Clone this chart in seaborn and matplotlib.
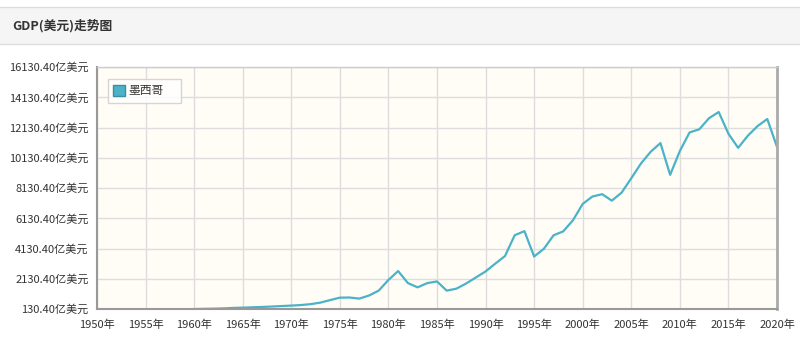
import matplotlib
matplotlib.use("Agg")
import matplotlib.pyplot as plt
import seaborn as sns
import pandas as pd
from matplotlib.patches import Rectangle
from matplotlib.lines import Line2D

years = list(range(1960, 2021))
gdp = [130.4, 141.6, 152.0, 169.6, 200.8, 218.4, 243.6, 265.6, 293.6, 324.8,
       355.4, 392.0, 452.0, 552.7, 720.0, 880.0, 890.0, 817.1, 1021.6, 1345.4,
       2051.4, 2639.6, 1846.1, 1561.6, 1842.3, 1952.2, 1345.5, 1475.4, 1816.1, 2214.0,
       2612.5, 3131.4, 3631.6, 5007.4, 5278.1, 3600.7, 4109.8, 5004.1, 5265.0, 6002.3,
       7079.1, 7567.1, 7721.1, 7293.4, 7822.4, 8774.8, 9753.9, 10527.0, 11099.9, 9000.5,
       10578.0, 11804.9, 12010.9, 12744.4, 13153.5, 11718.7, 10784.9, 11589.1, 12224.1, 12690.1,
       10850.0]
series_name = "墨西哥"
title = "GDP(美元)走势图"
yticks = [130.4 + 2000 * k for k in range(9)]
xticks = list(range(1950, 2021, 5))

df = pd.DataFrame({"year": years, "gdp": gdp, "country": series_name})

sns.set_theme(style="white")
plt.rcParams["font.family"] = ["Noto Sans CJK SC", "DejaVu Sans"]

fig = plt.figure(figsize=(8, 3.42), dpi=100)
fig.patch.set_facecolor("white")

# title bar
bar = Rectangle((0, 1 - 44 / 342), 1, 37 / 342, transform=fig.transFigure,
                facecolor="#f5f5f5", edgecolor="none", zorder=0)
fig.patches.append(bar)
for yy in (1 - 7 / 342, 1 - 44 / 342):
    fig.add_artist(Line2D([0, 1], [yy, yy], transform=fig.transFigure,
                          color="#dddddd", lw=1))
fig.text(12 / 800, 1 - 25.5 / 342, title, fontsize=9.2, fontweight="bold",
         color="#333333", va="center", ha="left")

ax = fig.add_axes([97 / 800, 33 / 342, 680 / 800, 242 / 342])
ax.set_facecolor("#fffdf5")
color = "#4ab3c9"
sns.lineplot(data=df, x="year", y="gdp", ax=ax, color=color, lw=1.6, legend=False)

ax.set_xlim(1950, 2020)
ax.set_ylim(yticks[0], yticks[-1])
ax.set_xticks(xticks)
ax.set_xticklabels([f"{x}年" for x in xticks])
ax.set_yticks(yticks)
ax.set_yticklabels([f"{v:.2f}亿美元" for v in yticks])
ax.set_xlabel("")
ax.set_ylabel("")
ax.grid(True, color="#dddddd", lw=1)
ax.set_axisbelow(True)
ax.tick_params(axis="both", labelsize=8, colors="#333333", length=4,
               width=1, direction="out", pad=2)
ax.tick_params(axis="x", pad=4)
ax.tick_params(axis="both", color="#999999")
for s in ("left", "bottom"):
    ax.spines[s].set_color("#999999")
    ax.spines[s].set_linewidth(1.5)
ax.spines["right"].set_color("#aaaaaa")
ax.spines["right"].set_linewidth(2)
ax.spines["top"].set_color("#cccccc")
ax.spines["top"].set_linewidth(1)

handle = Rectangle((0, 0), 1, 1, facecolor=color, edgecolor="#3a8fa0")
leg = ax.legend([handle], [series_name], loc="upper left", mode="expand",
                bbox_to_anchor=(11 / 680, 0, 73 / 680, 1 - 12 / 242), fontsize=8.5,
                frameon=True, fancybox=False, handlelength=1.0, handleheight=1.0,
                handletextpad=0.3, borderpad=0.45, borderaxespad=0)
leg.get_frame().set_edgecolor("#cccccc")
leg.get_frame().set_facecolor("white")
leg.get_frame().set_linewidth(1)
for t in leg.get_texts():
    t.set_color("#333333")

fig.savefig("out.png", dpi=100)
